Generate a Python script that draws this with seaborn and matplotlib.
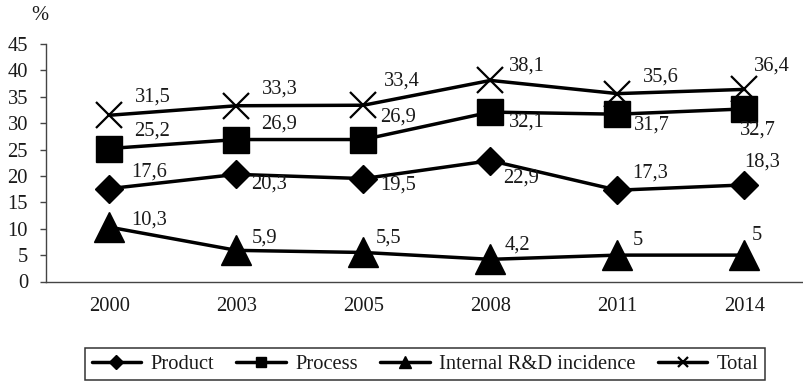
import matplotlib
matplotlib.use("Agg")
import matplotlib.pyplot as plt
from matplotlib.lines import Line2D
from matplotlib import font_manager
import seaborn as sns
import pandas as pd

# Series values by survey year (%)
years = ["2000", "2003", "2005", "2008", "2011", "2014"]
product = [17.6, 20.3, 19.5, 22.9, 17.3, 18.3]
process = [25.2, 26.9, 26.9, 32.1, 31.7, 32.7]
internal_rd = [10.3, 5.9, 5.5, 4.2, 5, 5]
total = [31.5, 33.3, 33.4, 38.1, 35.6, 36.4]
series_names = ["Product", "Process", "Internal R&D incidence", "Total"]
y_ticks = [0, 5, 10, 15, 20, 25, 30, 35, 40, 45]

sns.set_theme(style="white")
plt.rcParams["font.family"] = "serif"
plt.rcParams["font.serif"] = ["Liberation Serif", "DejaVu Serif"]
FS = 14.8
TXT = "#1a1a1a"
print(font_manager.findfont("Liberation Serif"))

fig = plt.figure(figsize=(8.04, 3.81), dpi=100)
ax = fig.add_axes([46 / 804, (381 - 281.5) / 381, 762 / 804, 237.5 / 381])

x_pos = list(range(len(years)))
df = pd.DataFrame({
    "x": x_pos * 4,
    "value": product + process + internal_rd + total,
    "series": sum([[n] * len(years) for n in series_names], []),
})

styles = {
    "Product": dict(marker="D", markersize=14.5, mew=1),
    "Process": dict(marker="s", markersize=19, mew=1),
    "Internal R&D incidence": dict(marker="^", markersize=21, mew=1),
    "Total": dict(marker="x", markersize=19, mew=1.6),
}

for name in series_names:
    sub = df[df["series"] == name]
    sns.lineplot(data=sub, x="x", y="value", ax=ax, color="black", lw=2.5,
                 markeredgecolor="black", markerfacecolor="black",
                 legend=False, **styles[name])

# Per-point label offsets in pixels (dx, dy; positive dy is downward)
label_offsets = {
    "Total": [(25, -18), (25, -17), (20, -24), (18, -14), (25, -17), (9, -23)],
    "Process": [(25, -17), (25, -15), (17, -22), (18, 10), (16, 11), (-5, 21)],
    "Product": [(22, -17), (15, 10), (17, 6), (13, 17), (15, -17), (0, -23)],
    "Internal R&D incidence": [(22, -7), (15, -12), (12, -14), (14, -14), (15, -15), (7, -20)],
}
values_by_name = dict(zip(series_names, [product, process, internal_rd, total]))

for name in series_names:
    for i, v in enumerate(values_by_name[name]):
        dx, dy = label_offsets[name][i]
        ax.annotate(f"{v:g}".replace(".", ","), xy=(i, v), xytext=(dx, -dy),
                    textcoords="offset pixels", ha="left", va="center",
                    fontsize=FS, color=TXT)

ax.set_xlim(-0.5, 5.5)
ax.set_ylim(0, 45)
ax.set_yticks(y_ticks)
ax.set_yticklabels([str(t) for t in y_ticks], fontsize=FS, color=TXT)
ax.set_xticks(x_pos)
ax.set_xticklabels(years, fontsize=FS, color=TXT)
ax.set_xticks([p - 0.5 for p in x_pos] + [5.5], minor=True)
ax.tick_params(axis="x", which="major", length=0, pad=11.5)
ax.tick_params(axis="x", which="minor", length=4.3, width=1, color="#444444", direction="out")
ax.tick_params(axis="y", which="major", length=4.3, width=1, color="#444444",
               direction="out", pad=8.6, left=True)
ax.set_xlabel("")
ax.set_ylabel("")
for side in ["top", "right"]:
    ax.spines[side].set_visible(False)
for side in ["left", "bottom"]:
    ax.spines[side].set_color("#444444")
    ax.spines[side].set_linewidth(1)

fig.text(40 / 804, 1 - 15 / 381, "%", ha="center", va="center", fontsize=FS, color=TXT)

legend_markers = {
    "Product": dict(marker="D", markersize=7.5),
    "Process": dict(marker="s", markersize=7.5),
    "Internal R&D incidence": dict(marker="^", markersize=9),
    "Total": dict(marker="x", markersize=7.5, mew=1.6),
}
handles = [Line2D([], [], color="black", lw=2.5, markerfacecolor="black",
                  markeredgecolor="black", **legend_markers[n]) for n in series_names]
leg = fig.legend(handles, series_names, loc="center", bbox_to_anchor=(425 / 804, 17 / 381),
                 ncol=4, fontsize=FS, frameon=True, fancybox=False, framealpha=1,
                 edgecolor="#333333", handlelength=2.4, handletextpad=0.45,
                 columnspacing=1.1, borderpad=0.3)
leg.get_frame().set_linewidth(1.1)
for t in leg.get_texts():
    t.set_color(TXT)

fig.savefig("out.png", dpi=100)
